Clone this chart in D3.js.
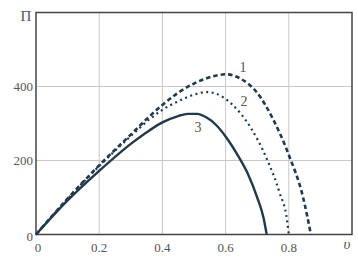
<!DOCTYPE html>
<html>
<head>
<meta charset="UTF-8" />
<style>
  body { margin: 0; background: #fff; }
  svg { display: block; }
  .grid line { stroke: #c8c8c8; stroke-width: 1; }
  .tick-label { font-family: "Liberation Serif", "DejaVu Serif", serif; font-size: 13px; fill: #555; }
  .curve { fill: none; stroke: #22394a; }
  .num { font-family: "Liberation Serif", "DejaVu Serif", serif; font-size: 14px; fill: #555; }
</style>
</head>
<body>
<svg id="chart" width="358" height="264"></svg>
<script src="https://d3js.org/d3.v7.min.js"></script>
<script>
// curve 1 (dashed)
const v1 = [0, 0.1, 0.2, 0.3, 0.36, 0.4, 0.45, 0.5, 0.55, 0.6, 0.65, 0.7, 0.75, 0.8, 0.845, 0.87];
const p1 = [0, 97, 187, 270, 320, 350, 383, 408, 425, 433, 420, 383, 312, 215, 101, 0];
// curve 2 (dotted)
const v2 = [0, 0.1, 0.2, 0.3, 0.36, 0.4, 0.45, 0.5, 0.54, 0.59, 0.62, 0.68, 0.73, 0.77, 0.795, 0.8];
const p2 = [0, 96, 185, 266, 312, 337, 360, 378, 385, 372, 352, 288, 205, 115, 35, 0];
// curve 3 (solid)
const v3 = [0, 0.1, 0.2, 0.3, 0.36, 0.4, 0.45, 0.48, 0.51, 0.54, 0.57, 0.6, 0.64, 0.67, 0.7, 0.72, 0.73];
const p3 = [0, 92, 172, 245, 282, 303, 320, 326, 326, 316, 296, 265, 212, 165, 100, 45, 0];

const xTicks = [0, 0.2, 0.4, 0.6, 0.8];
const yTicks = [0, 200, 400];
const xLabels = ["0", "0.2", "0.4", "0.6", "0.8"];
const yLabels = ["0", "200", "400"];

const svg = d3.select("#chart");
const x = d3.scaleLinear().domain([0, 1]).range([36, 352]);
const y = d3.scaleLinear().domain([0, 600]).range([234.5, 12.5]);

// grid
const grid = svg.append("g").attr("class", "grid");
grid.selectAll(".gx").data([0.2, 0.4, 0.6, 0.8]).enter().append("line")
  .attr("x1", d => x(d)).attr("x2", d => x(d))
  .attr("y1", y(0)).attr("y2", y(600));
grid.selectAll(".gy").data([200, 400]).enter().append("line")
  .attr("x1", x(0)).attr("x2", x(1))
  .attr("y1", d => y(d)).attr("y2", d => y(d));

// frame
svg.append("rect")
  .attr("x", x(0)).attr("y", y(600))
  .attr("width", x(1) - x(0)).attr("height", y(0) - y(600))
  .attr("fill", "none").attr("stroke", "#444").attr("stroke-width", 1.5);

// tick labels
svg.selectAll(".xl").data(xTicks).enter().append("text")
  .attr("class", "tick-label")
  .attr("x", (d, i) => x(d) + (i === 0 ? 2 : 0))
  .attr("y", 252)
  .attr("text-anchor", "middle")
  .text((d, i) => xLabels[i]);

svg.selectAll(".yl").data(yTicks).enter().append("text")
  .attr("class", "tick-label")
  .attr("x", 33)
  .attr("y", d => y(d) + (d === 0 ? 6 : 4.5))
  .attr("text-anchor", "end")
  .text((d, i) => yLabels[i]);

svg.append("text").attr("class", "tick-label")
  .attr("x", 26).attr("y", 21).attr("text-anchor", "middle")
  .style("font-size", "15px").text("Π");
svg.append("text").attr("class", "tick-label")
  .attr("x", 347).attr("y", 249).attr("text-anchor", "middle")
  .style("font-style", "italic").style("font-size", "15px").text("υ");

// curves
const line = d3.line().x(d => x(d[0])).y(d => y(d[1])).curve(d3.curveMonotoneX);

svg.append("path").attr("class", "curve")
  .attr("d", line(v1.map((v, i) => [v, p1[i]])))
  .attr("stroke-width", 2.6).attr("stroke-dasharray", "4.5,3");
svg.append("path").attr("class", "curve")
  .attr("d", line(v2.map((v, i) => [v, p2[i]])))
  .attr("stroke-width", 2.2).attr("stroke-dasharray", "2,3.5");
svg.append("path").attr("class", "curve")
  .attr("d", line(v3.map((v, i) => [v, p3[i]])))
  .attr("stroke-width", 2.4);

// curve numbers
svg.append("text").attr("class", "num").attr("x", 243).attr("y", 72).attr("text-anchor", "middle").text("1");
svg.append("text").attr("class", "num").attr("x", 244).attr("y", 106).attr("text-anchor", "middle").text("2");
svg.append("text").attr("class", "num").attr("x", 198).attr("y", 132).attr("text-anchor", "middle").text("3");
</script>
</body>
</html>
